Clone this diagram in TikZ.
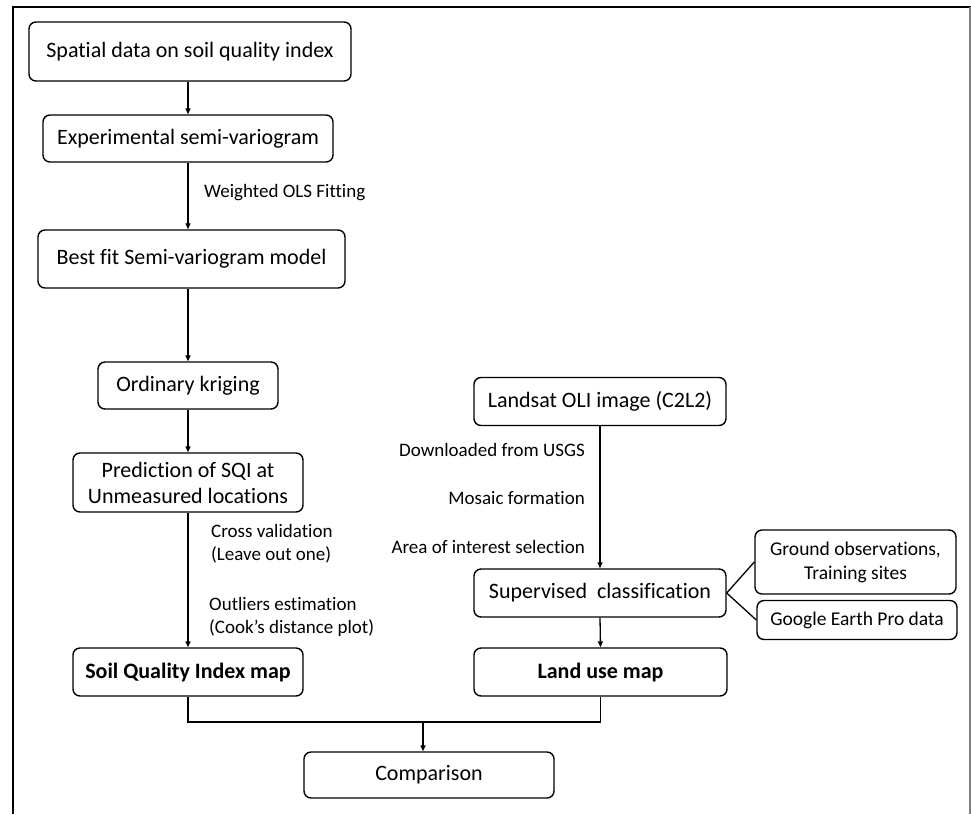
\documentclass[tikz,border=0pt]{standalone}
\usepackage{fontspec}
\setmainfont{Carlito}[Ligatures=NoCommon]
\usetikzlibrary{arrows.meta,calc}
\begin{document}
\begin{tikzpicture}[x=1pt,y=-1pt,
  box/.style={draw,line width=1.4pt,rounded corners=7pt,inner sep=0pt,align=center,
    font=\fontsize{22}{26}\selectfont},
  lbl/.style={inner sep=0pt,align=left,font=\fontsize{19}{23}\selectfont},
  arr/.style={line width=1.3pt,-{Triangle[length=6pt,width=5pt]}},
  ln/.style={line width=1.3pt}]
\useasboundingbox (0,0) rectangle (971,814);
% frame
\draw[line width=2.5pt] (13,814) -- (13,7) -- (971,7);
\draw[line width=1.2pt,gray] (970,7) -- (970,814);
% left column
\node[box,minimum width=322pt,minimum height=59pt] (b1) at (190,51.5) {Spatial data on soil quality index};
\node[box,minimum width=290pt,minimum height=47pt] (b2) at (188,138.5) {Experimental semi-variogram};
\node[box,minimum width=307pt,minimum height=58pt] (b3) at (191.5,259) {Best fit Semi-variogram model};
\node[box,minimum width=180pt,minimum height=47pt] (b4) at (188,385.5) {Ordinary kriging};
\node[box,minimum width=230pt,minimum height=59pt] (b5) at (188,482.5) {Prediction of SQI at\\Unmeasured locations};
\node[box,minimum width=230pt,minimum height=48pt,font=\fontsize{22}{26}\selectfont\bfseries] (b6) at (188,672) {Soil Quality Index map};
% right column
\node[box,minimum width=252pt,minimum height=48pt] (b7) at (600,401.5) {Landsat OLI image (C2L2)};
\node[box,minimum width=252pt,minimum height=48pt] (b8) at (600,593) {Supervised\ \ classification};
\node[box,minimum width=253pt,minimum height=48pt,font=\fontsize{22}{26}\selectfont\bfseries] (b9) at (600.5,672) {Land use map};
\node[box,minimum width=201pt,minimum height=64pt,font=\fontsize{19.5}{24}\selectfont] (g1) at (855.5,562) {Ground observations,\\Training sites};
\node[box,minimum width=200pt,minimum height=39pt,font=\fontsize{19.5}{24}\selectfont] (g2) at (857,620) {Google Earth Pro data};
\node[box,minimum width=250pt,minimum height=46pt] (b10) at (429,775) {Comparison};
% labels
\node[lbl,anchor=west] (l1) at (204,193) {Weighted OLS Fitting};
\node[lbl,anchor=west] (l2) at (211,543.5) {Cross validation\\(Leave out one)};
\node[lbl,anchor=west] (l3) at (209,616.5) {Outliers estimation\\(Cook’s distance plot)};
\node[lbl,anchor=east] (l4) at (585,450) {Downloaded from USGS};
\node[lbl,anchor=east] (l5) at (585,498) {Mosaic formation};
\node[lbl,anchor=east] (l6) at (585,547) {Area of interest selection};
% connectors
\draw[arr] (b1.south -| b2.north) -- (b2.north);
\draw[arr] (b2.south) -- (b2.south |- b3.north);
\draw[arr] (b3.south -| b4.north) -- (b4.north);
\draw[arr] (b4.south) -- (b5.north);
\draw[arr] (b5.south) -- (b6.north);
\draw[arr] (b7.south) -- (b8.north);
\draw[arr] (b8.south) -- (b9.north);
\draw[ln] (b8.east) -- (g1.west);
\draw[ln] (b8.east) -- (g2.west);
\coordinate (j) at (423,722);
\draw[ln] (b6.south) |- (b9.south |- j) -- (b9.south);
\draw[arr] (j) -- (j |- b10.north);
\end{tikzpicture}
\end{document}
